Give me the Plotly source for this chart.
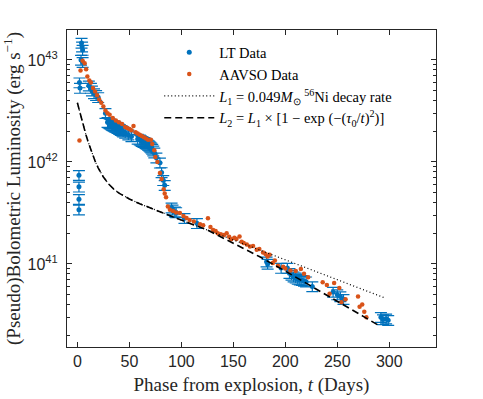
import plotly.graph_objects as go

# ---------------- data ----------------
lt_t = [1.5, 1.5, 1.5, 1.5, 2.0, 2.5, 3.5, 4.0, 4.5, 5.0, 5.0,
        11, 13, 14, 16, 18, 20, 27,
        29, 30, 31, 32, 33, 34, 35, 36, 37, 38, 39, 40, 41, 42, 43, 44, 46, 49, 52,
        58, 60, 61, 62, 63, 64, 65, 66, 67, 68, 69, 70, 71, 72, 73, 74,
        76, 79.4, 81, 82.6, 84, 90.6, 91.5, 93.8, 95, 103, 115,
        182, 183, 196, 202, 204, 206, 208, 210, 212, 214, 216, 218, 220, 226,
        246, 250, 253, 256, 292, 294, 297, 299]
lt_L = [7.4e41, 5.7e41, 4.3e41, 3.4e41, 6.0e42, 5.3e42, 1.0e43, 1.47e43, 1.35e43, 1.25e43, 9.5e42,
        5.6e42, 5.3e42, 5.0e42, 4.7e42, 4.5e42, 4.3e42, 3.0e42,
        2.45e42, 2.42e42, 2.38e42, 2.35e42, 2.3e42, 2.28e42, 2.25e42, 2.22e42, 2.2e42, 2.17e42,
        2.14e42, 2.11e42, 2.08e42, 2.05e42, 2.02e42, 1.98e42, 1.92e42, 1.85e42, 1.78e42,
        1.68e42, 1.65e42, 1.62e42, 1.6e42, 1.58e42, 1.56e42, 1.54e42, 1.52e42, 1.5e42, 1.47e42,
        1.44e42, 1.41e42, 1.38e42, 1.34e42, 1.29e42, 1.23e42,
        1.1e42, 9.8e41, 7.9e41, 6.6e41, 5.9e41, 3.55e41, 3.4e41, 3.25e41, 3.2e41, 2.8e41, 2.5e41,
        1.05e41, 1.0e41, 9.1e40, 9.1e40, 8.1e40, 7.8e40, 7.5e40, 7.3e40, 7.1e40, 7.0e40, 6.9e40,
        6.8e40, 6.7e40, 6.0e40,
        5.3e40, 5.0e40, 4.8e40, 4.5e40, 3.0e40, 2.85e40, 2.9e40, 2.8e40]

aavso_t = [2, 3, 5, 7, 8.4, 9.6, 11.5, 13, 15, 17, 19, 21, 23, 25, 27, 29, 31, 34, 37, 40,
           43, 46, 48, 50, 52, 54, 56, 58, 60, 62, 64, 66, 68, 70.7, 72, 74, 75, 77, 79.4, 81,
           83, 84, 85.3, 87, 89, 92, 95, 98.6, 102, 105, 108, 112, 118, 121, 125.6, 128, 130.6,
           133, 135, 138, 141, 143.6, 146, 148, 151, 153, 156, 158, 160, 163, 166, 169, 172.5,
           175, 178.6, 181, 183, 185, 188, 190, 193, 198, 200, 205, 210, 215, 218, 222, 236,
           240, 242.6, 247, 252, 254, 258, 270, 271.5, 274, 276, 278]
aavso_L = [1.62e42, 7.9e42, 9.8e42, 9.3e42, 8.1e42, 6.9e42, 6.3e42, 6.0e42, 5.3e42, 4.9e42,
           4.5e42, 4.1e42, 3.8e42, 3.5e42, 3.2e42, 3.0e42, 2.9e42, 2.7e42, 2.55e42, 2.45e42,
           2.35e42, 2.2e42, 2.15e42, 2.1e42, 2.05e42, 2.25e42, 1.95e42, 1.9e42, 1.85e42, 1.8e42,
           1.75e42, 1.7e42, 1.65e42, 1.65e42, 1.5e42, 1.3e42, 1.12e42, 1.0e42, 7.8e41, 6.8e41,
           5.4e41, 4.9e41, 4.5e41, 3.65e41, 3.4e41, 3.3e41, 3.2e41, 3.15e41, 2.95e41, 2.82e41,
           2.7e41, 2.6e41, 2.45e41, 2.4e41, 2.8e41, 2.3e41, 2.15e41, 2.1e41, 2.0e41, 1.95e41,
           1.92e41, 2.0e41, 1.85e41, 1.74e41, 1.8e41, 1.75e41, 1.86e41, 1.65e41, 1.6e41, 1.55e41,
           1.48e41, 1.5e41, 1.38e41, 1.4e41, 1.29e41, 1.25e41, 1.18e41, 1.23e41, 1.02e41,
           1.08e41, 9.6e40, 9.4e40, 9.0e40, 8.6e40, 8.5e40, 8.9e40, 8.0e40, 7.4e40, 6.6e40,
           6.2e40, 5.1e40, 6.5e40, 5.8e40, 4.2e40, 4.5e40, 4.8e40, 3.8e40, 4.0e40, 3.4e40, 3.0e40]

l1_t = [0, 2, 4, 6, 8, 10, 12, 14, 17, 20, 25, 30, 35, 40, 50, 60, 70, 80, 90, 100,
        125, 140, 150, 175, 200, 225, 250, 275, 295]
l1_L = [3.8e42, 3.15e42, 2.63e42, 2.21e42, 1.88e42, 1.61e42, 1.40e42, 1.22e42, 1.02e42,
        8.75e41, 7.1e41, 6.09e41, 5.41e41, 4.95e41, 4.33e41, 3.89e41, 3.54e41, 3.22e41,
        2.95e41, 2.69e41, 2.15e41, 1.88e41, 1.72e41, 1.37e41, 1.10e41, 8.75e40, 6.99e40,
        5.59e40, 4.67e40]

l2_t = [0, 2, 4, 6, 8, 10, 12, 14, 17, 20, 25, 30, 35, 40, 50, 60, 70, 80, 90, 100,
        125, 140, 150, 175, 200, 225, 250, 275, 290]
l2_L = [3.8e42, 3.15e42, 2.63e42, 2.21e42, 1.88e42, 1.61e42, 1.40e42, 1.22e42, 1.02e42,
        8.75e41, 7.1e41, 6.09e41, 5.41e41, 4.95e41, 4.33e41, 3.89e41, 3.54e41, 3.22e41,
        2.95e41, 2.69e41, 2.15e41, 1.79e41, 1.60e41, 1.18e41, 8.5e40, 6.1e40, 4.3e40,
        3.06e40, 2.49e40]

x_ticks = [0, 50, 100, 150, 200, 250, 300]
y_ticks = [1e41, 1e42, 1e43]
y_ticktext = ["10<sup>41</sup>", "10<sup>42</sup>", "10<sup>43</sup>"]
y_minor = [float(m) * 10.0 ** e for e in (40, 41, 42) for m in range(2, 10)]

BLUE = "#0072BD"
ORANGE = "#D95319"
AX = "#262626"
SERIF = "Liberation Serif"
SANS = "Liberation Sans"

fig = go.Figure()
fig.add_trace(go.Scatter(
    x=lt_t, y=lt_L, mode="markers", name="LT Data",
    marker=dict(color=BLUE, size=5),
    error_y=dict(type="percent", value=11, color=BLUE, thickness=1.2, width=6),
))
fig.add_trace(go.Scatter(
    x=aavso_t, y=aavso_L, mode="markers", name="AAVSO Data",
    marker=dict(color=ORANGE, size=4.5),
))
fig.add_trace(go.Scatter(
    x=l1_t, y=l1_L, mode="lines",
    name="<i>L</i><sub>1</sub> = 0.049<i>M</i><sub>⊙</sub> <sup>56</sup>Ni decay rate",
    line=dict(color="black", width=1.2, dash="1px,2.5px"),
))
fig.add_trace(go.Scatter(
    x=l2_t, y=l2_L, mode="lines",
    name="<i>L</i><sub>2</sub> = <i>L</i><sub>1</sub> × [1 − exp (−(<i>τ</i><sub>0</sub>/<i>t</i>)<sup>2</sup>)]",
    line=dict(color="black", width=1.6, dash="7px,4px"),
))

fig.update_layout(
    width=483, height=399,
    margin=dict(l=67, r=47, t=30, b=52),
    paper_bgcolor="white", plot_bgcolor="white",
    legend=dict(x=0.25, y=0.98, xanchor="left", yanchor="top",
                bgcolor="rgba(0,0,0,0)", itemwidth=50, tracegroupgap=0,
                font=dict(family=SERIF, size=14.5, color="black")),
    xaxis=dict(
        range=[-10, 345], tickvals=x_ticks, ticks="inside", ticklen=5,
        tickcolor=AX, showline=True, linecolor=AX, linewidth=1, mirror="ticks",
        showgrid=False, zeroline=False, automargin=False,
        tickfont=dict(family=SANS, size=16, color=AX),
        title=dict(text="Phase from explosion, <i>t</i> (Days)",
                   font=dict(family=SERIF, size=19, color=AX), standoff=8),
    ),
    yaxis=dict(
        type="log", range=[40.185, 43.294], tickvals=y_ticks, ticktext=y_ticktext,
        ticks="inside", ticklen=5, tickcolor=AX, showline=True, linecolor=AX,
        linewidth=1, mirror="ticks", showgrid=False, zeroline=False, automargin=False,
        ticklabelstandoff=5,
        tickfont=dict(family=SANS, size=16, color=AX),
        minor=dict(tickvals=y_minor, ticks="inside", ticklen=3, tickcolor=AX, showgrid=False),
        title=dict(text="(Pseudo)Bolometric Luminosity (erg s<sup>−1</sup>)",
                   font=dict(family=SERIF, size=19, color=AX), standoff=10),
    ),
)

fig.write_html("out.html",
               config={"displayModeBar": False},
               post_script="document.body.style.margin='0';document.body.style.padding='0';")
